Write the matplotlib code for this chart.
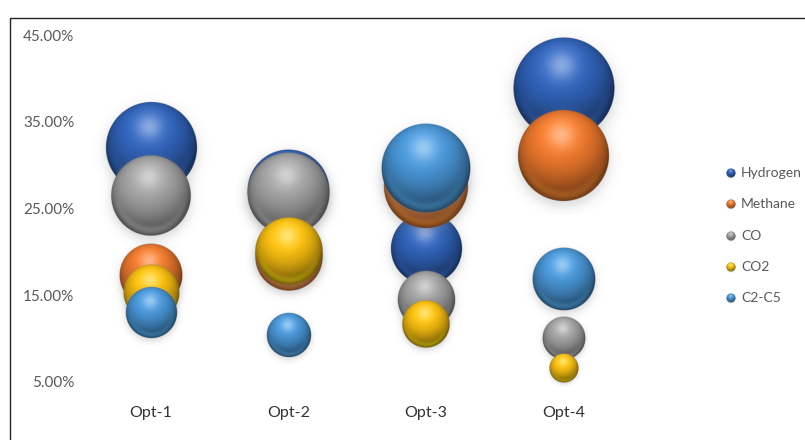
import numpy as np
import matplotlib.pyplot as plt
from matplotlib.colors import to_rgb
from matplotlib.patches import Rectangle

plt.rcParams['font.family'] = ['Lato', 'DejaVu Sans']

categories = ['Opt-1', 'Opt-2', 'Opt-3', 'Opt-4']
series = ['Hydrogen', 'Methane', 'CO', 'CO2', 'C2-C5']

# gas share (%) for each option
hydrogen = [32.0, 27.0, 20.4, 38.9]
methane = [17.3, 19.4, 27.6, 31.1]
co = [26.4, 26.7, 14.5, 10.1]
co2 = [15.3, 20.1, 11.6, 6.6]
c2_c5 = [13.0, 10.4, 29.6, 16.9]

# bubble widths
hydrogen_size = [9.1, 8.2, 7.1, 10.1]
methane_size = [6.3, 6.7, 8.4, 9.1]
co_size = [8.0, 8.2, 5.7, 4.3]
co2_size = [5.6, 6.7, 4.7, 2.9]
c2_c5_size = [5.1, 4.4, 8.9, 6.3]

values = [hydrogen, methane, co, co2, c2_c5]
sizes = [hydrogen_size, methane_size, co_size, co2_size, c2_c5_size]
colors = ['#3062b8', '#eb772c', '#a0a0a0', '#f5bc10', '#4894d4']

W, H = 805, 440
PAD = 1.3


def sphere_rgba(color, n=220):
    t = np.linspace(-PAD, PAD, n)
    u, v = np.meshgrid(t, t[::-1])
    d = np.hypot(u, v)
    nz = np.sqrt(np.clip(1 - d ** 2, 0, 1))
    light = np.array([-0.1, 0.5, 0.86])
    light /= np.linalg.norm(light)
    diff = np.clip(u * light[0] + v * light[1] + nz * light[2], 0, 1)
    base = np.array(to_rgb(color))
    rgb = base * (0.45 + 0.65 * diff)[..., None]
    # soft highlight near the top
    spot = np.exp(-((u + 0.05) ** 2 + (v - 0.45) ** 2) / (2 * 0.2 ** 2))
    rgb = rgb + (1 - rgb) * (0.42 * spot)[..., None]
    # lighter reflection along the lower rim
    rim = np.exp(-(d - 0.86) ** 2 / (2 * 0.07 ** 2)) * np.clip(-v, 0, 1)
    rgb = rgb + (np.minimum(base * 1.3, 1) - rgb) * (0.4 * rim)[..., None]
    rgb = np.clip(rgb, 0, 1)
    step = 2 * PAD / n
    a_ball = np.clip((1 - d) / step + 0.5, 0, 1)
    # blurred drop shadow
    ds = np.hypot(u, v + 0.1)
    a_sh = 0.28 / (1 + np.exp((ds - 1.02) / 0.07))
    shc = np.array([0.5, 0.5, 0.5])
    a = a_ball + a_sh * (1 - a_ball)
    out = (rgb * a_ball[..., None] + shc * (a_sh * (1 - a_ball))[..., None]) / np.maximum(a, 1e-6)[..., None]
    return np.dstack([out, a])


fig = plt.figure(figsize=(W / 100, H / 100), dpi=100)
# plot area in pixels: left 80, right 700, top 20, bottom 395
ax = fig.add_axes([80 / W, (H - 395) / H, 620 / W, 375 / H])
x = np.arange(1, len(categories) + 1)
ax.set_xlim(0.484, 4.993)
ax.set_ylim(3.50, 46.73)

p0 = ax.transData.transform((0, 0))
p1 = ax.transData.transform((1, 1))
ppx, ppy = p1 - p0

images = [sphere_rgba(c) for c in colors]
for k, (vals, sz) in enumerate(zip(values, sizes)):
    for xi, yi, si in zip(x, vals, sz):
        r = si * 5
        dx, dy = r * PAD / ppx, r * PAD / ppy
        ax.imshow(images[k], extent=[xi - dx, xi + dx, yi - dy, yi + dy],
                  aspect='auto', interpolation='antialiased', zorder=2 + k, clip_on=False)

ax.set_xlim(0.484, 4.993)
ax.set_ylim(3.50, 46.73)
ax.set_xticks(x)
ax.set_xticklabels(categories, fontsize=11.5, color='#333333')
ax.set_yticks([5, 15, 25, 35, 45])
ax.set_yticklabels([f'{v:.2f}%' for v in [5, 15, 25, 35, 45]], fontsize=11, color='#595959')
ax.tick_params(axis='both', length=0)
ax.tick_params(axis='y', pad=4)
ax.tick_params(axis='x', pad=8)
for s in ax.spines.values():
    s.set_visible(False)

# overlay in pixel coordinates for frame and legend
lax = fig.add_axes([0, 0, 1, 1], zorder=5)
lax.set_axis_off()
lax.add_patch(Rectangle((10, 18), 820, 440, fill=False, lw=1.0, ec='#222222'))
for k, name in enumerate(series):
    cx, cy, r = 731, 173 + k * 31.3, 4.6
    lax.imshow(images[k], extent=[cx - r * PAD, cx + r * PAD, cy + r * PAD, cy - r * PAD],
               aspect='auto', interpolation='antialiased')
    lax.text(741, cy, name, fontsize=10, color='#595959', va='center', ha='left')
lax.set_xlim(0, W)
lax.set_ylim(H, 0)

fig.savefig('out.png', dpi=100)
